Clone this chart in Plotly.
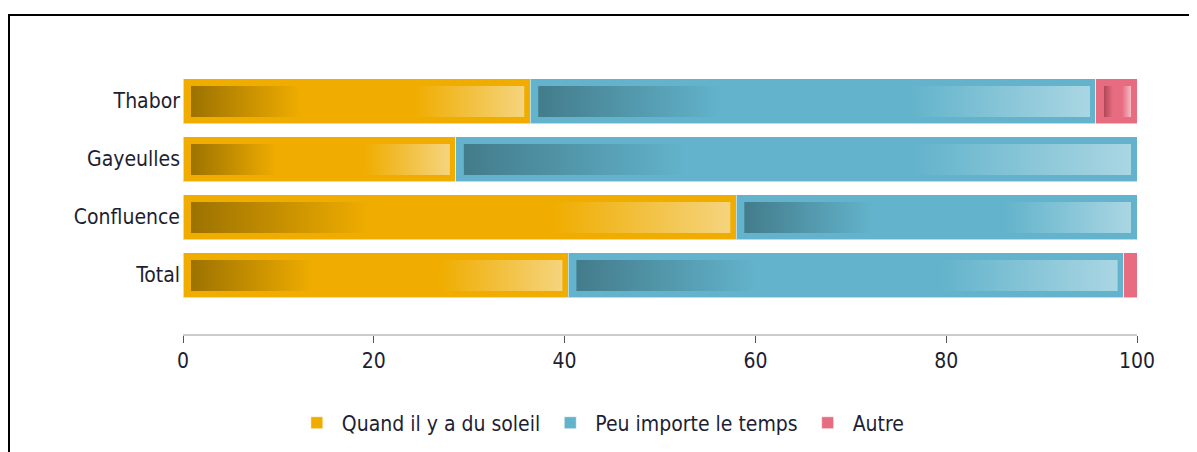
import plotly.graph_objects as go

categories = ["Total", "Confluence", "Gayeulles", "Thabor"]
series_names = ["Quand il y a du soleil", "Peu importe le temps", "Autre"]
soleil = [40.4, 58.0, 28.6, 36.4]
peu_importe = [58.2, 42.0, 71.4, 59.3]
autre = [1.4, 0.0, 0.0, 4.3]
x_ticks = [0, 20, 40, 60, 80, 100]

series_values = [soleil, peu_importe, autre]
base_colors = ["#F0AD00", "#62B3CB", "#E76C80"]
dark_colors = ["#9C7200", "#437C8B", "#AE4757"]
light_colors = ["#F5D47E", "#AAD6E3", "#F4BCC5"]

# page has an 8px body margin; figure pixel = page pixel - 8
W, H = 1197, 452
ML, MT = 175, 64
plot_w, plot_h = 954, 262
MR = W - ML - plot_w
MB = H - MT - plot_h
y_range = [-1.017, 3.5]
px_x = plot_w / 100.0
px_y = plot_h / (y_range[1] - y_range[0])

bar_w = 45 / px_y
ypos = list(range(len(categories)))

font_family = "DejaVu Sans Condensed, DejaVu Sans"
text_color = "#1E1E33"

fig = go.Figure()

for name, vals, col in zip(series_names, series_values, base_colors):
    fig.add_trace(go.Bar(
        name=name, y=ypos, x=vals, orientation="h", width=bar_w,
        marker=dict(color=col, line=dict(color="rgba(255,255,255,0.55)", width=1)),
        hovertemplate="%{x}<extra>" + name + "</extra>",
    ))

# inner gradient rectangles, positioned from the cumulative data
for i, yc in enumerate(ypos):
    start = 0.0
    for s, vals in enumerate(series_values):
        v = vals[i]
        end = start + v
        if v * px_x > 16:
            x0 = start + 8 / px_x
            x1 = end - 6 / px_x
            y0 = yc - (22.5 - 6.5) / px_y
            y1 = yc + (22.5 - 7.5) / px_y
            fig.add_trace(go.Scatter(
                x=[x0, x1, x1, x0, x0], y=[y0, y0, y1, y1, y0],
                mode="lines", fill="toself", line=dict(width=0),
                fillgradient=dict(type="horizontal", colorscale=[
                    [0, dark_colors[s]], [0.33, base_colors[s]],
                    [0.67, base_colors[s]], [1, light_colors[s]]]),
                showlegend=False, hoverinfo="skip",
            ))
        start = end

# outer frame
fig.add_shape(type="rect", xref="paper", yref="paper",
              x0=(1 - ML) / plot_w, x1=(W + 10 - ML) / plot_w,
              y0=(MT + plot_h - (H + 10)) / plot_h, y1=(MT + plot_h - 7) / plot_h,
              line=dict(color="black", width=2), fillcolor="rgba(0,0,0,0)", layer="above")

fig.update_layout(
    width=W, height=H,
    margin=dict(l=ML, r=MR, t=MT, b=MB, pad=0),
    barmode="stack",
    plot_bgcolor="white", paper_bgcolor="white",
    font=dict(family=font_family, size=20, color=text_color),
    showlegend=True,
    legend=dict(orientation="h", x=0.438, xanchor="center", y=-0.34, yanchor="middle",
                font=dict(size=21, color=text_color), traceorder="normal",
                itemwidth=40),
    xaxis=dict(range=[0, 100], tickvals=x_ticks, showgrid=False, zeroline=False,
               showline=True, linecolor="#CCCCCC", linewidth=2,
               ticks="outside", ticklen=7, tickcolor="#555555", tickwidth=1,
               tickfont=dict(size=21, color=text_color), fixedrange=True),
    yaxis=dict(range=y_range, tickvals=ypos, ticktext=categories, showgrid=False,
               zeroline=False, showline=False, ticks="", ticklabelstandoff=2,
               tickfont=dict(size=21, color=text_color), fixedrange=True),
)

fig.write_html("out.html")
